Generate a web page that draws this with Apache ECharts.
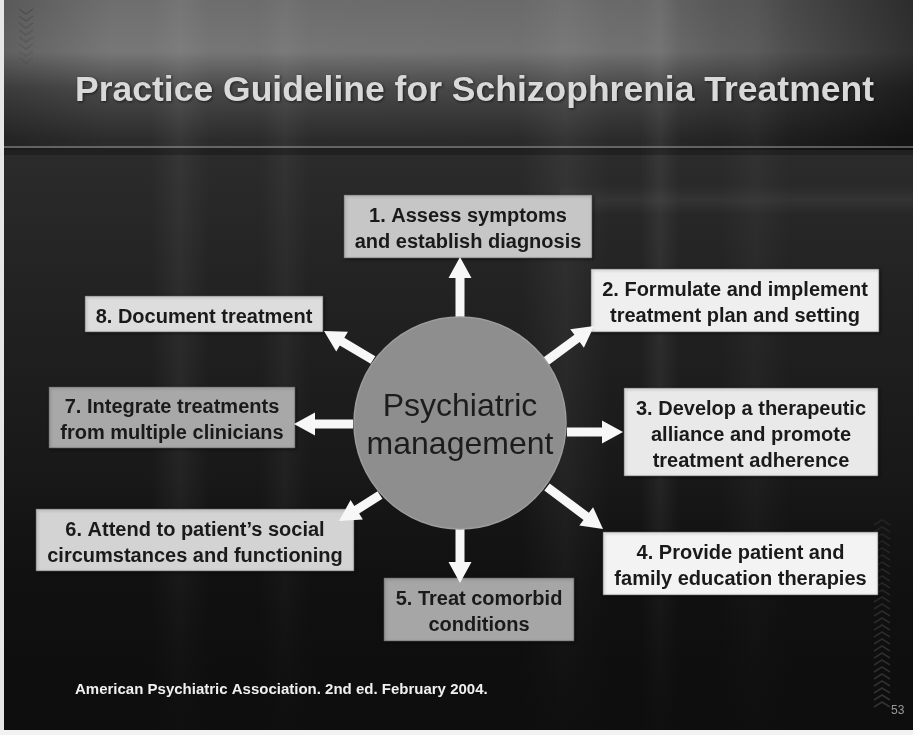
<!DOCTYPE html>
<html>
<head>
<meta charset="utf-8">
<script src="https://cdn.jsdelivr.net/npm/echarts@6/dist/echarts.min.js"></script>
<style>
html,body{margin:0;padding:0;background:#ffffff;}
#main{width:913px;height:735px;}
</style>
</head>
<body>
<div id="main"></div>
<script>
// ---- content ----
const titleText = 'Practice Guideline for Schizophrenia Treatment';
const hubLabel = 'Psychiatric\nmanagement';
const steps = [
  '1. Assess symptoms\nand establish diagnosis',
  '2. Formulate and implement\ntreatment plan and setting',
  '3. Develop a therapeutic\nalliance and promote\ntreatment adherence',
  '4. Provide patient and\nfamily education therapies',
  '5. Treat comorbid\nconditions',
  '6. Attend to patient\u2019s social\ncircumstances and functioning',
  '7. Integrate treatments\nfrom multiple clinicians',
  '8. Document treatment'
];
const sourceText = 'American Psychiatric Association. 2nd ed. February 2004.';
const pageNumber = '53';

// ---- layout (slide space, 913 x 735) ----
const hubCenter = [460, 423];
const hubRadius = 106;
const boxRects = [
  [344, 195, 592, 258],
  [591, 269, 879, 332],
  [624, 388, 878, 476],
  [603, 532, 878, 595],
  [384, 578, 574, 641],
  [36, 509, 354, 571],
  [49, 387, 295, 448],
  [85, 296, 323, 332]
];
const arrowLines = [
  [460, 318, 460, 257],
  [545, 362, 594, 326],
  [567, 432, 623, 432],
  [547, 487, 603, 529],
  [460, 527, 460, 583],
  [380, 495, 339, 521],
  [353, 424, 294, 424],
  [373, 360, 324, 331]
];
// ---- styles ----
const boxFills = ['#c6c6c6', '#efefef', '#e9e9e9', '#f3f3f3', '#a6a6a6', '#d3d3d3', '#a8a8a8', '#dddddd'];
const FONT = '"Liberation Sans", Arial, sans-serif';

const chart = echarts.init(document.getElementById('main'), null, {renderer: 'canvas'});

function arrowPoints(a, b) {
  const dx = b[0] - a[0], dy = b[1] - a[1];
  const len = Math.sqrt(dx * dx + dy * dy);
  const ux = dx / len, uy = dy / len;
  const nx = -uy, ny = ux;
  const w = 4.5, hw = 11.5, hl = Math.min(21, len * 0.45);
  const hb = [b[0] - ux * hl, b[1] - uy * hl];
  return [
    [a[0] + nx * w, a[1] + ny * w],
    [hb[0] + nx * w, hb[1] + ny * w],
    [hb[0] + nx * hw, hb[1] + ny * hw],
    [b[0], b[1]],
    [hb[0] - nx * hw, hb[1] - ny * hw],
    [hb[0] - nx * w, hb[1] - ny * w],
    [a[0] - nx * w, a[1] - ny * w]
  ];
}

// background art (slide template)
const bg = [];
bg.push({type: 'rect', z: -10, silent: true, shape: {x: 0, y: 0, width: 913, height: 735},
  style: {fill: new echarts.graphic.LinearGradient(0, 0, 0, 1, [
    {offset: 0, color: '#6e6e6e'}, {offset: 0.07, color: '#777777'}, {offset: 0.12, color: '#4a4a4a'},
    {offset: 0.19, color: '#2c2c2c'}, {offset: 0.4, color: '#222222'}, {offset: 0.7, color: '#161616'},
    {offset: 1, color: '#0c0c0c'}])}});
bg.push({type: 'rect', z: -9, silent: true, shape: {x: 0, y: 0, width: 913, height: 150},
  style: {fill: new echarts.graphic.LinearGradient(0, 0, 1, 0, [
    {offset: 0, color: 'rgba(0,0,0,0.2)'}, {offset: 0.12, color: 'rgba(0,0,0,0)'},
    {offset: 0.7, color: 'rgba(0,0,0,0.05)'}, {offset: 0.87, color: 'rgba(0,0,0,0.35)'},
    {offset: 1, color: 'rgba(0,0,0,0.6)'}])}});
// soft vertical bands
[[150, 60, 0.05], [260, 50, 0.04], [520, 90, 0.05], [640, 40, 0.06], [720, 70, 0.03]].forEach(function (b) {
  bg.push({type: 'rect', z: -8, silent: true, shape: {x: b[0], y: 0, width: b[1], height: 730},
    style: {fill: new echarts.graphic.LinearGradient(0, 0, 1, 0, [
      {offset: 0, color: 'rgba(255,255,255,0)'}, {offset: 0.5, color: 'rgba(255,255,255,' + b[2] + ')'},
      {offset: 1, color: 'rgba(255,255,255,0)'}])}});
});
bg.push({type: 'rect', z: -8, silent: true, shape: {x: 0, y: 480, width: 913, height: 250},
  style: {fill: new echarts.graphic.LinearGradient(0, 0, 0, 1, [
    {offset: 0, color: 'rgba(14,14,14,0)'}, {offset: 1, color: 'rgba(14,14,14,0.9)'}])}});
bg.push({type: 'rect', z: -8, silent: true, shape: {x: 560, y: 185, width: 353, height: 30},
  style: {fill: new echarts.graphic.LinearGradient(0, 0, 0, 1, [
    {offset: 0, color: 'rgba(255,255,255,0)'}, {offset: 0.5, color: 'rgba(255,255,255,0.05)'},
    {offset: 1, color: 'rgba(255,255,255,0)'}])}});
// rule under title
bg.push({type: 'rect', z: -7, silent: true, shape: {x: 0, y: 146, width: 913, height: 2}, style: {fill: 'rgba(160,160,160,0.5)'}});
bg.push({type: 'rect', z: -7, silent: true, shape: {x: 0, y: 148, width: 913, height: 7}, style: {fill: 'rgba(0,0,0,0.25)'}});
// chevrons top-left
for (let i = 0; i < 8; i++) {
  const y = 9 + i * 7;
  bg.push({type: 'polyline', z: -6, silent: true, shape: {points: [[19, y], [26, y + 5], [33, y]]},
    style: {stroke: 'rgba(70,70,70,' + (0.55 - i * 0.05) + ')', lineWidth: 1.5, fill: null}});
}
// chevrons bottom-right
for (let i = 0; i < 27; i++) {
  const y = 520 + i * 7;
  bg.push({type: 'polyline', z: -6, silent: true, shape: {points: [[874, y + 5], [882, y], [890, y + 5]]},
    style: {stroke: 'rgba(80,80,80,' + (0.25 + i * 0.012) + ')', lineWidth: 1.5, fill: null}});
}
// frame edges
bg.push({type: 'rect', z: 50, silent: true, shape: {x: 0, y: 0, width: 4, height: 735}, style: {fill: '#e6e6e6'}});
bg.push({type: 'rect', z: 50, silent: true, shape: {x: 0, y: 730, width: 913, height: 5}, style: {fill: '#f2f2f2'}});

const option = {
  animation: false,
  backgroundColor: '#1e1e1e',
  title: [
    {text: titleText, left: 75, top: 73, padding: 0,
      textStyle: {fontFamily: FONT, fontSize: 35.5, fontWeight: 'bold', color: '#d9d9d9',
        textShadowColor: 'rgba(0,0,0,0.6)', textShadowBlur: 3, textShadowOffsetX: 1, textShadowOffsetY: 1}},
    {text: sourceText, left: 75, top: 682, padding: 0,
      textStyle: {fontFamily: FONT, fontSize: 15, fontWeight: 'bold', color: '#f0f0f0'}},
    {text: pageNumber, left: 891, top: 705, padding: 0,
      textStyle: {fontFamily: FONT, fontSize: 12, fontWeight: 'normal', color: '#9a9a9a'}}
  ],
  grid: {left: 0, right: 0, top: 0, bottom: 0},
  xAxis: {type: 'value', min: 0, max: 913, show: false},
  yAxis: {type: 'value', min: 0, max: 735, inverse: true, show: false},
  graphic: bg,
  series: [
    {
      type: 'custom', name: 'steps', z: 2,
      data: boxRects.map(function (r, i) { return [r[0], r[1], r[2], r[3], i]; }),
      encode: {x: [0, 2], y: [1, 3]},
      renderItem: function (params, api) {
        const i = api.value(4);
        const p0 = api.coord([api.value(0), api.value(1)]);
        const p1 = api.coord([api.value(2), api.value(3)]);
        const w = p1[0] - p0[0], h = p1[1] - p0[1];
        return {type: 'group', children: [
          {type: 'rect', shape: {x: p0[0], y: p0[1], width: w, height: h},
            style: {fill: boxFills[i], stroke: 'rgba(90,90,90,0.6)', lineWidth: 1,
              shadowColor: 'rgba(0,0,0,0.5)', shadowBlur: 3, shadowOffsetX: 1, shadowOffsetY: 1}},
          {type: 'text', style: {x: p0[0] + w / 2, y: p0[1] + h / 2 + 3, text: steps[i], align: 'center',
            verticalAlign: 'middle', fontFamily: FONT, fontSize: 20, fontWeight: 'bold', lineHeight: 26,
            fill: '#1a1a1a'}}
        ]};
      }
    },
    {
      type: 'custom', name: 'arrows', z: 3,
      data: arrowLines.map(function (l, i) { return [l[0], l[1], l[2], l[3], i]; }),
      encode: {x: [0, 2], y: [1, 3]},
      renderItem: function (params, api) {
        const a = api.coord([api.value(0), api.value(1)]);
        const b = api.coord([api.value(2), api.value(3)]);
        return {type: 'polygon', shape: {points: arrowPoints(a, b)}, style: {fill: '#f7f7f7'}};
      }
    },
    {
      type: 'custom', name: 'hub', z: 4,
      data: [[hubCenter[0], hubCenter[1], hubRadius]],
      encode: {x: 0, y: 1},
      renderItem: function (params, api) {
        const c = api.coord([api.value(0), api.value(1)]);
        const r = api.size([api.value(2), 0])[0];
        return {type: 'group', children: [
          {type: 'circle', shape: {cx: c[0], cy: c[1], r: r},
            style: {fill: '#8e8e8e', stroke: '#9c9c9c', lineWidth: 1.5}},
          {type: 'text', style: {x: c[0], y: c[1] + 3, text: hubLabel, align: 'center', verticalAlign: 'middle',
            fontFamily: FONT, fontSize: 32, lineHeight: 38, fill: '#1c1c1c'}}
        ]};
      }
    }
  ]
};
chart.setOption(option);
</script>
</body>
</html>
